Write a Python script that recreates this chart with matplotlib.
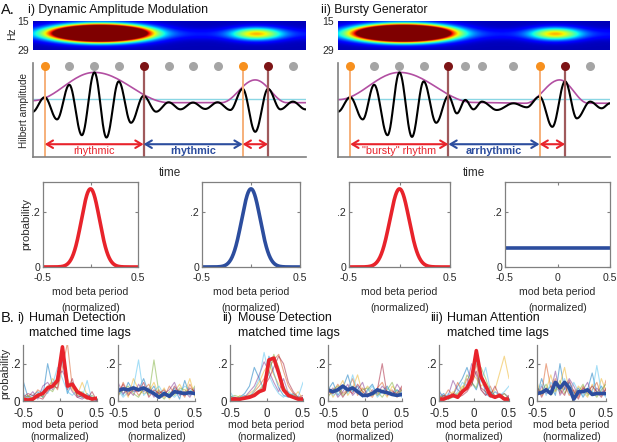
import numpy as np
import matplotlib
matplotlib.use('Agg')
import matplotlib.pyplot as plt

plt.rcParams['font.family'] = ['Liberation Sans', 'DejaVu Sans']

W, H = 617, 442
GRAY = '#808080'
TXT = '#2a2a2a'
RED = '#e8232b'
BLUE = '#2c4d9e'
ORANGE = '#f7901e'
DKRED = '#7d1416'
ORANGE_LN = '#f6b07a'
DKRED_LN = '#a05a5c'
CYAN = '#8ad6e4'
MAGENTA = '#b24fa2'
SUBJ_COLORS = ['#0072BD', '#D95319', '#EDB120', '#7E2F8E', '#77AC30', '#4DBEEE', '#A2142F']

# ---------------- panel A data ----------------
# oscillation extrema (time as fraction of panel, amplitude 0..1)
dam_ext_t = [-0.002, 0.043, 0.088, 0.133, 0.179, 0.225, 0.269, 0.314, 0.359, 0.405, 0.451,
             0.497, 0.540, 0.586, 0.631, 0.676, 0.723, 0.768, 0.814, 0.861, 0.906, 0.952, 0.998]
dam_ext_y = [0.48, 0.636, 0.40, 0.768, 0.232, 0.90, 0.207, 0.804, 0.364, 0.65, 0.482,
             0.582, 0.507, 0.579, 0.511, 0.582, 0.50, 0.725, 0.268, 0.725, 0.507, 0.589, 0.507]
dam_env_t = [0.0, 0.225, 0.50, 0.69, 0.814, 0.93, 1.0]
dam_env_y = [0.60, 0.90, 0.578, 0.578, 0.82, 0.578, 0.578]
dam_onset = [0.043, 0.768]
dam_offset = [0.405, 0.861]
dam_gray = [0.133, 0.225, 0.314, 0.497, 0.586, 0.676, 0.952]

bg_ext_t = [0.0, 0.045, 0.091, 0.133, 0.182, 0.226, 0.272, 0.315, 0.361, 0.406, 0.437, 0.468,
            0.498, 0.529, 0.584, 0.645, 0.694, 0.741, 0.788, 0.835, 0.878, 0.927, 0.969, 1.0]
bg_ext_y = [0.482, 0.636, 0.40, 0.768, 0.232, 0.90, 0.214, 0.804, 0.364, 0.65, 0.464, 0.607,
            0.507, 0.589, 0.50, 0.571, 0.529, 0.643, 0.321, 0.804, 0.411, 0.589, 0.518, 0.571]
bg_env_t = [0.0, 0.226, 0.50, 0.69, 0.815, 0.92, 1.0]
bg_env_y = [0.61, 0.90, 0.58, 0.572, 0.82, 0.572, 0.572]
bg_onset = [0.045, 0.741]
bg_offset = [0.406, 0.835]
bg_gray = [0.133, 0.226, 0.315, 0.468, 0.529, 0.645, 0.927]

threshold = 0.618

# spectrogram bursts: time, freq (0 = 15 Hz top), peak power, time width, freq width
dam_burst_t = [0.245, 0.82]
bg_burst_t = [0.24, 0.80]
burst_f = [0.42, 0.44]
burst_pow = [3.9, 0.58]
burst_tw = [0.10, 0.062]
burst_fw = [0.17, 0.15]

# model distributions (mod beta period)
model_peak = 0.285
model_sd = 0.095
uniform_level = 0.071

# ---------------- panel B data ----------------
bins = [-0.5, -0.433, -0.367, -0.3, -0.233, -0.167, -0.1, -0.033,
        0.033, 0.1, 0.167, 0.233, 0.3, 0.367, 0.433, 0.5]

hd_rhythm = [0.01, 0.005, 0.01, 0.03, 0.04, 0.07, 0.08, 0.11, 0.29, 0.08, 0.09, 0.05, 0.035, 0.02, 0.01, 0.015]
hd_arrhythm = [0.055, 0.065, 0.06, 0.07, 0.06, 0.07, 0.055, 0.04, 0.02, 0.04, 0.025, 0.05, 0.045, 0.04, 0.045, 0.04]
md_rhythm = [0.01, 0.01, 0.01, 0.015, 0.02, 0.03, 0.05, 0.06, 0.22, 0.23, 0.15, 0.06, 0.03, 0.02, 0.01, 0.01]
md_arrhythm = [0.06, 0.05, 0.06, 0.08, 0.06, 0.07, 0.05, 0.03, 0.03, 0.04, 0.06, 0.05, 0.045, 0.035, 0.03, 0.035]
ha_rhythm = [0.01, 0.01, 0.02, 0.03, 0.02, 0.05, 0.07, 0.12, 0.27, 0.13, 0.08, 0.03, 0.02, 0.03, 0.01, 0.01]
ha_arrhythm = [0.04, 0.045, 0.06, 0.04, 0.10, 0.07, 0.10, 0.07, 0.01, 0.05, 0.05, 0.06, 0.035, 0.04, 0.04, 0.04]

hd_rhythm_subj = [
    [0.11, 0.02, 0.03, 0.05, 0.02, 0.20, 0.08, 0.12, 0.22, 0.04, 0.10, 0.03, 0.02, 0.04, 0.01, 0.00],
    [0.02, 0.01, 0.02, 0.06, 0.04, 0.08, 0.10, 0.06, 0.18, 0.31, 0.07, 0.04, 0.02, 0.01, 0.02, 0.01],
    [0.00, 0.03, 0.01, 0.02, 0.05, 0.06, 0.12, 0.09, 0.30, 0.12, 0.06, 0.03, 0.10, 0.03, 0.00, 0.02],
    [0.03, 0.02, 0.05, 0.01, 0.08, 0.10, 0.06, 0.14, 0.16, 0.10, 0.05, 0.02, 0.01, 0.03, 0.02, 0.00],
    [0.01, 0.03, 0.00, 0.04, 0.02, 0.07, 0.05, 0.10, 0.26, 0.08, 0.09, 0.04, 0.05, 0.02, 0.03, 0.01],
    [0.05, 0.00, 0.02, 0.03, 0.06, 0.04, 0.09, 0.18, 0.12, 0.05, 0.03, 0.06, 0.02, 0.11, 0.00, 0.02],
    [0.02, 0.04, 0.03, 0.02, 0.01, 0.05, 0.08, 0.07, 0.24, 0.06, 0.12, 0.02, 0.03, 0.01, 0.05, 0.00],
]
hd_arrhythm_subj = [
    [0.08, 0.03, 0.10, 0.05, 0.06, 0.12, 0.04, 0.08, 0.02, 0.05, 0.03, 0.07, 0.01, 0.11, 0.03, 0.06],
    [0.02, 0.10, 0.04, 0.08, 0.03, 0.06, 0.09, 0.03, 0.06, 0.02, 0.08, 0.04, 0.06, 0.02, 0.09, 0.04],
    [0.05, 0.07, 0.02, 0.12, 0.06, 0.04, 0.05, 0.10, 0.03, 0.07, 0.01, 0.05, 0.09, 0.04, 0.12, 0.02],
    [0.10, 0.04, 0.06, 0.03, 0.09, 0.05, 0.07, 0.02, 0.05, 0.04, 0.06, 0.10, 0.03, 0.05, 0.02, 0.07],
    [0.03, 0.06, 0.08, 0.04, 0.02, 0.07, 0.03, 0.22, 0.04, 0.01, 0.05, 0.03, 0.07, 0.06, 0.04, 0.08],
    [0.06, 0.02, 0.05, 0.07, 0.22, 0.03, 0.06, 0.05, 0.08, 0.03, 0.04, 0.02, 0.05, 0.08, 0.06, 0.03],
    [0.04, 0.09, 0.03, 0.06, 0.05, 0.10, 0.02, 0.06, 0.04, 0.06, 0.02, 0.08, 0.04, 0.03, 0.07, 0.05],
]
md_rhythm_subj = [
    [0.03, 0.01, 0.02, 0.04, 0.08, 0.18, 0.12, 0.06, 0.24, 0.15, 0.07, 0.03, 0.02, 0.04, 0.01, 0.02],
    [0.01, 0.02, 0.01, 0.03, 0.02, 0.05, 0.08, 0.12, 0.18, 0.22, 0.25, 0.16, 0.08, 0.04, 0.02, 0.01],
    [0.02, 0.00, 0.03, 0.02, 0.04, 0.06, 0.10, 0.16, 0.20, 0.14, 0.09, 0.05, 0.03, 0.02, 0.05, 0.01],
    [0.00, 0.02, 0.01, 0.02, 0.05, 0.08, 0.14, 0.21, 0.16, 0.10, 0.05, 0.12, 0.04, 0.02, 0.01, 0.02],
    [0.02, 0.03, 0.02, 0.01, 0.03, 0.04, 0.06, 0.09, 0.15, 0.25, 0.18, 0.08, 0.04, 0.03, 0.02, 0.01],
    [0.05, 0.01, 0.02, 0.03, 0.02, 0.06, 0.12, 0.26, 0.14, 0.08, 0.04, 0.02, 0.05, 0.03, 0.02, 0.10],
    [0.01, 0.02, 0.00, 0.02, 0.03, 0.03, 0.05, 0.08, 0.12, 0.18, 0.24, 0.20, 0.10, 0.05, 0.02, 0.03],
]
md_arrhythm_subj = [
    [0.06, 0.10, 0.03, 0.07, 0.14, 0.05, 0.08, 0.02, 0.06, 0.09, 0.03, 0.05, 0.08, 0.03, 0.06, 0.04],
    [0.03, 0.05, 0.09, 0.04, 0.06, 0.12, 0.03, 0.07, 0.04, 0.02, 0.07, 0.10, 0.04, 0.06, 0.02, 0.07],
    [0.08, 0.02, 0.06, 0.11, 0.03, 0.07, 0.14, 0.04, 0.08, 0.05, 0.03, 0.06, 0.02, 0.08, 0.05, 0.03],
    [0.04, 0.07, 0.02, 0.05, 0.09, 0.03, 0.06, 0.10, 0.02, 0.06, 0.04, 0.08, 0.05, 0.03, 0.09, 0.05],
    [0.02, 0.06, 0.08, 0.03, 0.05, 0.08, 0.04, 0.06, 0.07, 0.03, 0.05, 0.02, 0.06, 0.10, 0.03, 0.06],
    [0.07, 0.03, 0.05, 0.08, 0.04, 0.14, 0.05, 0.03, 0.05, 0.08, 0.02, 0.05, 0.07, 0.04, 0.06, 0.02],
    [0.05, 0.04, 0.07, 0.02, 0.06, 0.04, 0.09, 0.05, 0.03, 0.04, 0.06, 0.20, 0.03, 0.05, 0.04, 0.08],
]
ha_rhythm_subj = [
    [0.02, 0.04, 0.01, 0.03, 0.08, 0.12, 0.18, 0.10, 0.06, 0.14, 0.04, 0.02, 0.05, 0.03, 0.01, 0.02],
    [0.01, 0.02, 0.06, 0.03, 0.10, 0.05, 0.12, 0.08, 0.20, 0.06, 0.03, 0.08, 0.02, 0.04, 0.02, 0.01],
    [0.03, 0.01, 0.02, 0.05, 0.03, 0.08, 0.06, 0.15, 0.12, 0.08, 0.10, 0.04, 0.06, 0.15, 0.24, 0.12],
    [0.05, 0.02, 0.03, 0.11, 0.06, 0.04, 0.09, 0.20, 0.14, 0.06, 0.03, 0.05, 0.02, 0.03, 0.04, 0.02],
    [0.02, 0.03, 0.01, 0.02, 0.04, 0.06, 0.14, 0.10, 0.07, 0.18, 0.12, 0.05, 0.03, 0.02, 0.04, 0.01],
    [0.06, 0.01, 0.04, 0.02, 0.05, 0.10, 0.08, 0.12, 0.22, 0.10, 0.18, 0.06, 0.02, 0.03, 0.05, 0.08],
    [0.01, 0.03, 0.02, 0.04, 0.02, 0.03, 0.05, 0.09, 0.16, 0.07, 0.05, 0.03, 0.08, 0.02, 0.01, 0.03],
]
ha_arrhythm_subj = [
    [0.03, 0.12, 0.05, 0.08, 0.03, 0.20, 0.06, 0.10, 0.04, 0.07, 0.02, 0.06, 0.15, 0.04, 0.08, 0.03],
    [0.06, 0.04, 0.20, 0.07, 0.12, 0.04, 0.09, 0.03, 0.06, 0.02, 0.08, 0.04, 0.06, 0.10, 0.03, 0.11],
    [0.10, 0.03, 0.06, 0.14, 0.05, 0.09, 0.18, 0.05, 0.03, 0.08, 0.05, 0.02, 0.09, 0.03, 0.12, 0.05],
    [0.02, 0.08, 0.04, 0.05, 0.16, 0.03, 0.07, 0.12, 0.08, 0.03, 0.06, 0.10, 0.03, 0.07, 0.04, 0.06],
    [0.07, 0.05, 0.09, 0.03, 0.06, 0.11, 0.04, 0.08, 0.02, 0.05, 0.09, 0.03, 0.05, 0.02, 0.06, 0.09],
    [0.04, 0.09, 0.03, 0.10, 0.07, 0.05, 0.12, 0.04, 0.10, 0.05, 0.03, 0.07, 0.04, 0.19, 0.05, 0.02],
    [0.08, 0.02, 0.07, 0.04, 0.09, 0.06, 0.03, 0.11, 0.05, 0.01, 0.07, 0.05, 0.08, 0.05, 0.02, 0.07],
]


fig = plt.figure(figsize=(W / 100, H / 100), dpi=100)


def box(l, t, r, b):
    return fig.add_axes([l / W, 1 - b / H, (r - l) / W, (b - t) / H])


def ftext(x, y, s, **kw):
    kw.setdefault('color', TXT)
    fig.text(x / W, 1 - y / H, s, **kw)


def half_cos(xk, yk, n=30):
    # smooth cosine segments between successive extrema / knots
    xs, ys = [], []
    for k in range(len(xk) - 1):
        s = np.linspace(0, 1, n, endpoint=False)
        xs.append(xk[k] + (xk[k + 1] - xk[k]) * s)
        ys.append(yk[k] + (yk[k + 1] - yk[k]) * (1 - np.cos(np.pi * s)) / 2)
    xs.append([xk[-1]])
    ys.append([yk[-1]])
    return np.concatenate(xs), np.concatenate(ys)


def spectrogram(ax, times):
    tt = np.linspace(0, 1, 400)
    ff = np.linspace(0, 1, 60)
    T, F = np.meshgrid(tt, ff)
    img = 0.05 + 0.09 * np.exp(-(F - 0.45) ** 2 / (2 * 0.13 ** 2))
    for t0, f0, p, tw, fw in zip(times, burst_f, burst_pow, burst_tw, burst_fw):
        img = img + p * np.exp(-(T - t0) ** 2 / (2 * tw ** 2) - (F - f0) ** 2 / (2 * fw ** 2))
    ax.imshow(img, cmap='jet', vmin=0, vmax=1, aspect='auto', extent=(0, 1, 1, 0),
              interpolation='bilinear')
    for s in ax.spines.values():
        s.set_visible(False)
    ax.set_xticks([])
    ax.set_yticks([0, 1])
    ax.set_yticklabels(['15', '29'], fontsize=7.5, color=TXT)
    ax.tick_params(axis='y', length=0, pad=3)


def hilbert(ax, ext_t, ext_y, env_t, env_y, onset, offset, grays, labels):
    x, y = half_cos(ext_t, ext_y)
    ax.axhline(threshold, color=CYAN, lw=1.0)
    ex, ey = half_cos(env_t, env_y)
    ax.plot(ex, ey, color=MAGENTA, lw=1.2)
    ax.plot(x, y, color='black', lw=1.5)
    top = 0.964
    ax.vlines(onset, 0, top, color=ORANGE_LN, lw=1.4)
    ax.vlines(offset, 0, top, color=DKRED_LN, lw=1.6)
    ax.plot(grays, [top] * len(grays), 'o', color='#a5a5a5', ms=6.5, mec='none', clip_on=False)
    ax.plot(onset, [top] * len(onset), 'o', color=ORANGE, ms=6.5, mec='none', clip_on=False)
    ax.plot(offset, [top] * len(offset), 'o', color=DKRED, ms=6.5, mec='none', clip_on=False)
    spans = [(onset[0], offset[0], RED), (offset[0], onset[1], BLUE), (onset[1], offset[1], RED)]
    for a, b, c in spans:
        ax.annotate('', xy=(b, 0.136), xytext=(a, 0.136),
                    arrowprops=dict(arrowstyle='<->,head_length=0.5,head_width=0.3', color=c,
                                    lw=1.5, shrinkA=0, shrinkB=0, mutation_scale=9))
    ax.text((onset[0] + offset[0]) / 2, 0.06, labels[0], color=RED, fontsize=7.8,
            ha='center', va='center')
    ax.text((offset[0] + onset[1]) / 2, 0.06, labels[1], color=BLUE, fontsize=7.8,
            fontweight='bold', ha='center', va='center')
    ax.set_xlim(0, 1)
    ax.set_ylim(0, 1)
    ax.set_xticks([])
    ax.set_yticks([])
    for s in ['top', 'right']:
        ax.spines[s].set_visible(False)
    for s in ['left', 'bottom']:
        ax.spines[s].set_color(GRAY)
        ax.spines[s].set_linewidth(1.2)


# ---------------- panel A ----------------
ftext(1, 10, 'A.', fontsize=10.5, va='center', color='#111111')
ftext(28, 10, 'i) Dynamic Amplitude Modulation', fontsize=8.8, va='center', color='#111111')
ftext(321, 10, 'ii) Bursty Generator', fontsize=8.8, va='center', color='#111111')

ax = box(33, 21, 306, 50)
spectrogram(ax, dam_burst_t)
ax = box(338, 21, 610, 50)
spectrogram(ax, bg_burst_t)
ftext(12, 34, 'Hz', fontsize=7.5, rotation=90, ha='center', va='center')

ax = box(33, 63, 306, 157)
hilbert(ax, dam_ext_t, dam_ext_y, dam_env_t, dam_env_y, dam_onset, dam_offset, dam_gray,
        ['rhythmic', 'rhythmic'])
ax = box(338, 63, 610, 157)
hilbert(ax, bg_ext_t, bg_ext_y, bg_env_t, bg_env_y, bg_onset, bg_offset, bg_gray,
        ['"bursty" rhythm', 'arrhythmic'])
ftext(24, 110, 'Hilbert amplitude', fontsize=7.2, rotation=90, ha='center', va='center')
ftext(170, 173, 'time', fontsize=8.5, ha='center', va='center')
ftext(474, 173, 'time', fontsize=8.5, ha='center', va='center')


def style_small(ax, ylim, box_on, fs_tick, xpad):
    ax.set_xlim(-0.5, 0.5)
    ax.set_ylim(*ylim)
    ax.set_yticks([0, 0.2])
    ax.set_yticklabels(['0', '.2'])
    ax.tick_params(direction='in', length=2.5, width=0.8, color=GRAY, labelsize=fs_tick,
                   labelcolor=TXT, pad=2, top=box_on, right=box_on)
    ax.tick_params(axis='x', pad=xpad)
    for s in ax.spines.values():
        s.set_color(GRAY)
        s.set_linewidth(0.9)
    if not box_on:
        ax.spines['top'].set_visible(False)
        ax.spines['right'].set_visible(False)


# model distributions
xm = np.linspace(-0.5, 0.5, 301)
gauss = model_peak * np.exp(-xm ** 2 / (2 * model_sd ** 2))
mid_boxes = [(43, 138), (202, 300), (349, 450), (505, 610)]
mid_curves = [(gauss, RED), (gauss, BLUE), (gauss, RED), (np.full_like(xm, uniform_level), BLUE)]
for k, ((l, r), (yv, c)) in enumerate(zip(mid_boxes, mid_curves)):
    ax = box(l, 182, r, 267)
    ax.plot(xm, yv, color=c, lw=2.6, solid_capstyle='butt')
    style_small(ax, (0, 0.31), True, 7.6, 4.5)
    ax.set_xticks([-0.5, 0, 0.5])
    ax.set_xticklabels(['-0.5', '0' if k == 3 else '', '0.5'])
    ax.set_xlabel('mod beta period\n(normalized)', fontsize=7.6, color=TXT, linespacing=1.7,
                  labelpad=3)
    if k == 0:
        ax.set_ylabel('probability', fontsize=8.2, color=TXT, labelpad=0)

# ---------------- panel B ----------------
ftext(1, 318, 'B.', fontsize=10.5, va='center', color='#111111')
titles = [(17, 29, 'i)', 'Human Detection'), (222, 238, 'ii)', 'Mouse Detection'),
          (430, 447, 'iii)', 'Human Attention')]
for xa, xb, num, name in titles:
    ftext(xa, 318, num, fontsize=9, va='center', color='#111111')
    ftext(xb, 318, name, fontsize=9, va='center', color='#111111')
    ftext(xb, 333, 'matched time lags', fontsize=9, va='center', color='#111111')

bot_boxes = [(23, 97), (118, 195), (230, 303), (328, 402), (439, 509), (537, 606)]
bot_data = [(hd_rhythm_subj, hd_rhythm, RED), (hd_arrhythm_subj, hd_arrhythm, BLUE),
            (md_rhythm_subj, md_rhythm, RED), (md_arrhythm_subj, md_arrhythm, BLUE),
            (ha_rhythm_subj, ha_rhythm, RED), (ha_arrhythm_subj, ha_arrhythm, BLUE)]
for k, ((l, r), (subj, mean, c)) in enumerate(zip(bot_boxes, bot_data)):
    ax = box(l, 345, r, 401)
    for j, row in enumerate(subj):
        ax.plot(bins, row, color=SUBJ_COLORS[j % len(SUBJ_COLORS)], lw=0.8, alpha=0.5)
    ax.plot(bins, mean, color=c, lw=2.6)
    style_small(ax, (0, 0.3), False, 8.3, 5)
    ax.set_xticks([-0.5, 0, 0.5])
    ax.set_xticklabels(['-0.5', '0', '0.5'])
    ax.set_xlabel('mod beta period\n(normalized)', fontsize=7.6, color=TXT, linespacing=1.25,
                  labelpad=0)
    if k == 0:
        ax.set_ylabel('probability', fontsize=8, color=TXT, labelpad=0)

fig.savefig('out.png', dpi=100)
